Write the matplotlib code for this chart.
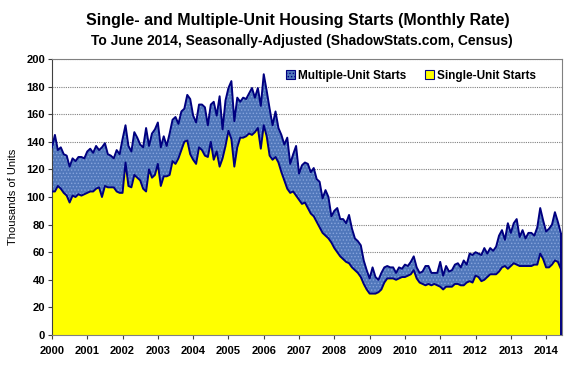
import numpy as np
import matplotlib
matplotlib.use("Agg")
import matplotlib.pyplot as plt
from matplotlib.patches import Patch

plt.rcParams['font.family'] = ['Liberation Sans', 'DejaVu Sans']

# monthly rate, thousands of units, Jan 2000 - Jun 2014
total_starts = [
    136, 145, 134, 136, 131, 130, 122, 128, 126, 129, 129, 128,   # 2000
    133, 135, 132, 137, 134, 136, 139, 131, 130, 128, 134, 131,   # 2001
    142, 152, 137, 133, 147, 143, 138, 136, 150, 137, 146, 149,   # 2002
    154, 136, 144, 137, 146, 156, 158, 153, 162, 164, 174, 171,   # 2003
    159, 154, 167, 167, 165, 152, 167, 169, 159, 173, 149, 170,   # 2004
    179, 184, 155, 172, 169, 172, 171, 175, 179, 172, 179, 166,   # 2005
    189, 177, 164, 152, 162, 150, 145, 138, 143, 124, 131, 137,   # 2006
    117, 123, 125, 124, 118, 121, 113, 111, 99, 105, 100, 86,     # 2007
    90, 92, 84, 84, 81, 87, 77, 70, 68, 65, 54, 47,               # 2008
    41, 49, 42, 40, 45, 49, 50, 49, 49, 45, 49, 48,               # 2009
    51, 50, 53, 57, 49, 45, 46, 50, 50, 45, 45, 45,               # 2010
    53, 43, 50, 46, 47, 51, 52, 49, 54, 51, 59, 58,               # 2011
    60, 59, 58, 63, 59, 63, 61, 64, 72, 76, 69, 81,               # 2012
    74, 81, 84, 71, 76, 70, 74, 74, 72, 78, 92, 83,               # 2013
    75, 77, 80, 89, 82, 74,                                       # 2014
]

single_starts = [
    104, 104, 108, 106, 103, 101, 96, 101, 100, 102, 101, 102,    # 2000
    103, 104, 104, 106, 107, 100, 108, 107, 107, 107, 104, 103,   # 2001
    103, 125, 108, 107, 116, 114, 112, 106, 104, 120, 114, 116,   # 2002
    124, 108, 115, 115, 116, 126, 124, 128, 134, 140, 141, 131,   # 2003
    127, 124, 136, 134, 130, 129, 140, 127, 133, 122, 128, 137,   # 2004
    148, 142, 122, 136, 143, 143, 144, 146, 145, 147, 150, 135,   # 2005
    152, 144, 130, 127, 129, 125, 118, 112, 106, 103, 104, 101,   # 2006
    98, 95, 96, 92, 88, 86, 82, 78, 74, 72, 70, 67,               # 2007
    63, 60, 57, 55, 53, 52, 49, 47, 45, 42, 37, 33,               # 2008
    30, 30, 30, 31, 33, 38, 41, 41, 41, 40, 41, 42,               # 2009
    42, 43, 44, 47, 41, 38, 37, 36, 37, 36, 37, 36,               # 2010
    35, 33, 35, 35, 35, 37, 37, 36, 36, 38, 39, 38,               # 2011
    43, 42, 39, 40, 42, 44, 44, 44, 46, 49, 50, 48,               # 2012
    50, 52, 51, 50, 50, 50, 50, 50, 51, 51, 59, 55,               # 2013
    49, 49, 51, 54, 53, 48,                                       # 2014
]

years = list(range(2000, 2015))

total = np.array(total_starts, dtype=float)
single = np.array(single_starts, dtype=float)
x = 2000 + np.arange(len(total)) / 12.0

fig = plt.figure(figsize=(5.82, 3.79), dpi=100)
ax = fig.add_axes([0.0893, 0.1161, 0.8763, 0.7282])

line_col = '#000080'
blue = '#5077bb'
yellow = '#ffff00'

plt.rcParams['hatch.linewidth'] = 0.6
ax.fill_between(x, single, total, facecolor=blue, edgecolor='#86a4dc',
                hatch='.....', linewidth=0, zorder=2)
ax.fill_between(x, 0, single, facecolor=yellow, linewidth=0, zorder=2)
ax.plot(x, total, color=line_col, lw=1.4, zorder=3)
ax.plot(x, single, color=line_col, lw=1.4, zorder=3)
ax.vlines(x[-1], 0, total[-1], color=line_col, lw=1.4, zorder=3)

ax.set_xlim(2000, 2014.45)
ax.set_ylim(0, 200)
ax.set_yticks(range(0, 201, 20))
ax.set_xticks(years)
ax.set_xticklabels([str(y) for y in years], fontweight='bold', fontsize=8)
ax.set_yticklabels([str(v) for v in range(0, 201, 20)], fontweight='bold', fontsize=8)
ax.yaxis.grid(True, color='#808080', linestyle=(0, (1, 1)), linewidth=0.8, zorder=1)
ax.set_axisbelow(True)
ax.tick_params(axis='both', direction='out', length=3, width=0.8, color='#404040', pad=2)
ax.tick_params(axis='x', pad=5)

for side in ['top', 'right', 'bottom']:
    ax.spines[side].set_color('#808080')
    ax.spines[side].set_linestyle((0, (1, 1)))
    ax.spines[side].set_linewidth(0.8)
ax.spines['left'].set_color('#404040')

ax.set_ylabel('Thousands of Units', fontsize=8, labelpad=6)

handles = [Patch(facecolor=blue, edgecolor=line_col, hatch='.....', lw=0.8),
           Patch(facecolor=yellow, edgecolor=line_col, lw=0.8)]
ax.legend(handles, ['Multiple-Unit Starts', 'Single-Unit Starts'], ncol=2,
          loc='upper right', bbox_to_anchor=(0.97, 1.0), frameon=False,
          prop={'weight': 'bold', 'size': 8.5}, handlelength=0.7, handleheight=0.7,
          handletextpad=0.3, columnspacing=1.6)

fig.text(0.512, 0.947, 'Single- and Multiple-Unit Housing Starts (Monthly Rate)',
         ha='center', va='center', fontsize=11.5, fontweight='bold')
fig.text(0.518, 0.893, 'To June 2014, Seasonally-Adjusted (ShadowStats.com, Census)',
         ha='center', va='center', fontsize=10, fontweight='bold')

fig.savefig('out.png', dpi=100)
